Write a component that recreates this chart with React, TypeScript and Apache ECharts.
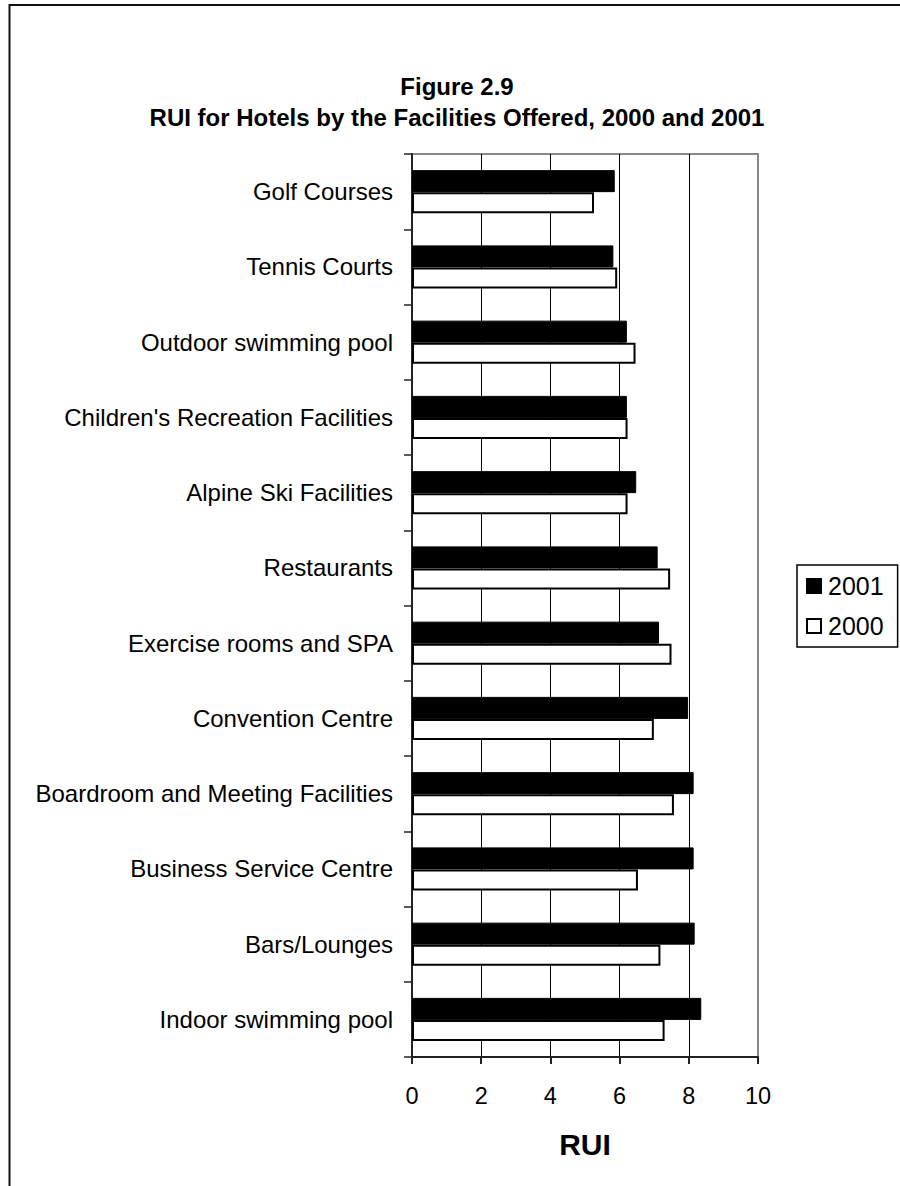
import React, { useEffect, useRef } from "react";
import * as echarts from "echarts";

// Facilities listed top to bottom
const facilities = [
  "Golf Courses",
  "Tennis Courts",
  "Outdoor swimming pool",
  "Children's Recreation Facilities",
  "Alpine Ski Facilities",
  "Restaurants",
  "Exercise rooms and SPA",
  "Convention Centre",
  "Boardroom and Meeting Facilities",
  "Business Service Centre",
  "Bars/Lounges",
  "Indoor swimming pool",
];

// RUI per facility
const rui2001 = [5.86, 5.82, 6.21, 6.21, 6.48, 7.1, 7.14, 7.98, 8.14, 8.14, 8.17, 8.36];
const rui2000 = [5.26, 5.93, 6.46, 6.23, 6.23, 7.46, 7.5, 6.99, 7.57, 6.53, 7.18, 7.3];

const titleLines = ["Figure 2.9", "RUI for Hotels by the Facilities Offered, 2000 and 2001"];
const axisName = "RUI";

const FONT = "Arial, 'Liberation Sans', Helvetica, sans-serif";

export default function App() {
  const ref = useRef<HTMLDivElement>(null);

  useEffect(() => {
    document.body.style.margin = "0";
    if (!ref.current) return;
    const chart = echarts.init(ref.current, null, { renderer: "svg" });

    chart.setOption({
      animation: false,
      backgroundColor: "#fff",
      textStyle: { fontFamily: FONT, color: "#000" },
      title: {
        text: titleLines.join("\n"),
        left: 452,
        top: 66,
        textAlign: "center",
        textStyle: {
          fontFamily: FONT,
          fontWeight: "bold",
          fontSize: 24,
          lineHeight: 31,
          color: "#000",
        },
      },
      graphic: [
        {
          type: "polyline",
          shape: { points: [[9.5, 1186], [9.5, 5], [900, 5]] },
          style: { stroke: "#111", lineWidth: 2, fill: null },
          silent: true,
        },
      ],
      legend: {
        orient: "vertical",
        left: 797,
        top: 565,
        data: ["2001", "2000"],
        icon: "rect",
        itemWidth: 14,
        itemHeight: 14,
        itemGap: 12,
        padding: [7, 14, 7, 9],
        borderColor: "#000",
        borderWidth: 1.5,
        textStyle: { fontFamily: FONT, fontSize: 25, color: "#000", lineHeight: 28, padding: [0, 0, 0, 2] },
      },
      grid: {
        left: 412,
        top: 154,
        right: 142,
        bottom: 129,
        show: true,
        borderColor: "#888",
        borderWidth: 2,
        backgroundColor: "transparent",
      },
      xAxis: {
        type: "value",
        min: 0,
        max: 10,
        interval: 2,
        name: axisName,
        nameLocation: "middle",
        nameGap: 72,
        nameTextStyle: { fontFamily: FONT, fontSize: 30, fontWeight: "bold", color: "#000" },
        axisLine: { show: true, lineStyle: { color: "#222", width: 2 } },
        axisTick: { show: true, length: 7, lineStyle: { color: "#222", width: 2 } },
        axisLabel: { fontFamily: FONT, fontSize: 23.5, color: "#000", margin: 27 },
        splitLine: {
          show: true,
          showMinLine: false,
          showMaxLine: false,
          lineStyle: { color: "#000", width: 1 },
        },
      },
      yAxis: {
        type: "category",
        data: facilities,
        inverse: true,
        axisLine: { show: true, lineStyle: { color: "#222", width: 2 } },
        axisTick: { show: true, length: 8, lineStyle: { color: "#222", width: 1.5 } },
        axisLabel: { fontFamily: FONT, fontSize: 24, color: "#000", margin: 19 },
        splitLine: { show: false },
      },
      series: [
        {
          name: "2001",
          type: "bar",
          data: rui2001,
          barWidth: 22,
          barGap: "0%",
          itemStyle: { color: "#000", borderColor: "#000", borderWidth: 1 },
        },
        {
          name: "2000",
          type: "bar",
          data: rui2000,
          barWidth: 21,
          barGap: "0%",
          itemStyle: { color: "#fff", borderColor: "#000", borderWidth: 2 },
        },
      ],
    });

    return () => chart.dispose();
  }, []);

  return <div ref={ref} style={{ width: 900, height: 1186 }} />;
}
